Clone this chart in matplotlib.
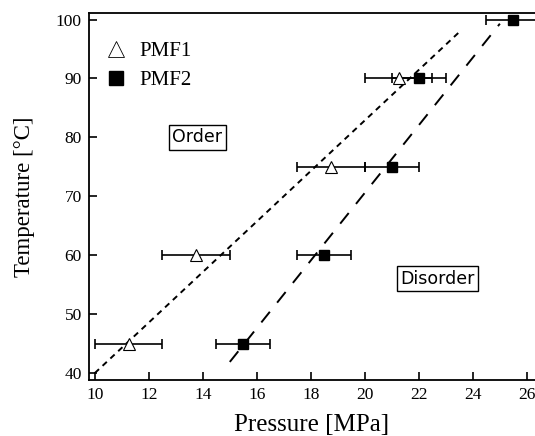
import numpy as np
import matplotlib
matplotlib.use("Agg")
import matplotlib.pyplot as plt
from matplotlib.lines import Line2D

# PMF1 (open triangles)
p1_temp = [45, 60, 75, 90]
p1_press = [11.25, 13.75, 18.75, 21.25]
p1_lo = [10.0, 12.5, 17.5, 20.0]
p1_hi = [12.5, 15.0, 20.0, 22.5]

# PMF2 (filled squares)
p2_temp = [45, 60, 75, 90, 100]
p2_press = [15.5, 18.5, 21.0, 22.0, 25.5]
p2_lo = [14.5, 17.5, 20.0, 21.0, 24.5]
p2_hi = [16.5, 19.5, 22.0, 23.0, 26.5]

# phase boundary guide lines (pressure, temperature end points)
line1_p = [10.0, 23.5]
line1_t = [40.0, 97.9]
line2_p = [15.0, 25.0]
line2_t = [41.9, 99.3]

plt.rcParams['font.family'] = ['Liberation Serif', 'DejaVu Serif']

fig = plt.figure(figsize=(5.35, 4.36), dpi=100)
ax = fig.add_axes([0.166, 0.128, 0.834, 0.842])

ax.plot(line1_p, line1_t, color='black', lw=1.4, dashes=(3, 2.5))
ax.plot(line2_p, line2_t, color='black', lw=1.4, dashes=(7, 6))

p1_press = np.array(p1_press)
p2_press = np.array(p2_press)
p1_err = [p1_press - np.array(p1_lo), np.array(p1_hi) - p1_press]
p2_err = [p2_press - np.array(p2_lo), np.array(p2_hi) - p2_press]

ax.errorbar(p1_press, p1_temp, xerr=p1_err, fmt='none', ecolor='black',
            elinewidth=1.2, capsize=3.3, capthick=1.2)
ax.errorbar(p2_press, p2_temp, xerr=p2_err, fmt='none', ecolor='black',
            elinewidth=1.2, capsize=3.3, capthick=1.2)
ax.plot(p1_press, p1_temp, '^', ms=9, mfc='white', mec='black', mew=0.8, ls='none')
ax.plot(p2_press, p2_temp, 's', ms=7, mfc='black', mec='black', ls='none')

ax.text(13.8, 80, 'Order', family='DejaVu Sans', fontsize=12.5, ha='center', va='center',
        bbox=dict(boxstyle='square,pad=0.2', fc='white', ec='black', lw=1))
ax.text(22.7, 56, 'Disorder', family='DejaVu Sans', fontsize=12.5, ha='center', va='center',
        bbox=dict(boxstyle='square,pad=0.2', fc='white', ec='black', lw=1))

ax.set_xlim(9.78, 26.3)
ax.set_ylim(38.8, 101.1)
ax.set_xticks(np.arange(10, 27, 2))
ax.set_yticks(np.arange(40, 101, 10))
ax.tick_params(direction='in', length=6, width=1.2, labelsize=12.5, pad=5)
ax.spines['right'].set_visible(False)
for s in ['left', 'bottom', 'top']:
    ax.spines[s].set_linewidth(1.3)

ax.set_xlabel('Pressure [MPa]', fontsize=18, labelpad=8)
ax.set_ylabel('Temperature [°C]', fontsize=16.5, labelpad=15)

handles = [
    Line2D([], [], marker='^', ms=11, mfc='white', mec='black', mew=0.6, ls='none'),
    Line2D([], [], marker='s', ms=10, mfc='black', mec='black', ls='none'),
]
ax.legend(handles, ['PMF1', 'PMF2'], loc='upper left', frameon=False, fontsize=15,
          handlelength=1.0, handletextpad=0.6, labelspacing=0.45,
          borderaxespad=0, bbox_to_anchor=(0.02, 0.945))

fig.savefig('out.png', dpi=100)
